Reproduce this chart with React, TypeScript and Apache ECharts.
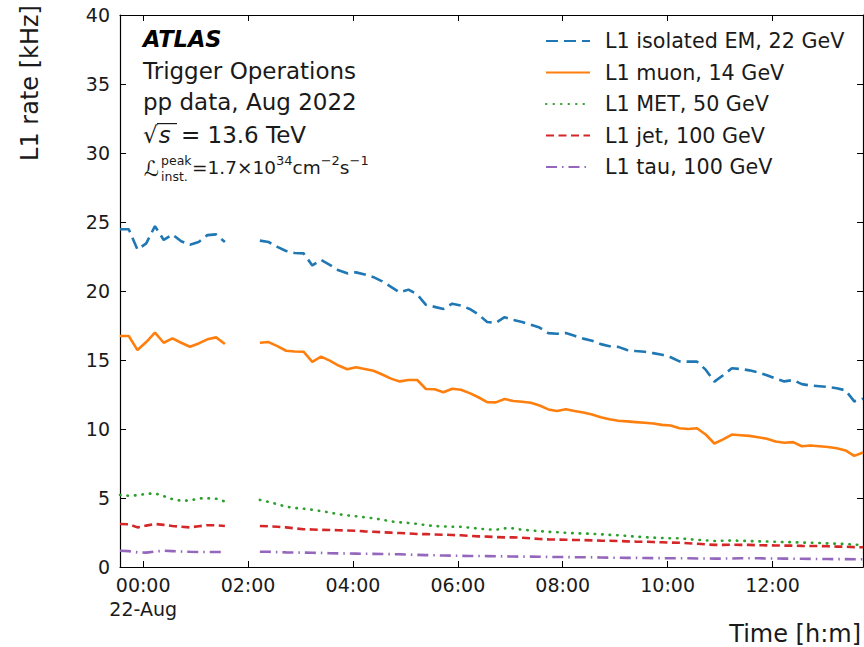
import React, { useEffect, useRef } from "react";
import * as echarts from "echarts";

// 10-minute samples, first sample at 23:33:30 on 21-Aug (minutes relative to 00:00 22-Aug)
const START_MIN = -26.5;
const STEP_MIN = 10;

const SERIES_NAMES = [
  "L1 isolated EM, 22 GeV",
  "L1 muon, 14 GeV",
  "L1 MET, 50 GeV",
  "L1 jet, 100 GeV",
  "L1 tau, 100 GeV",
];

const emRate = [
  24.47, 24.47, 23.0, 23.45, 24.7, 23.7, 24.1, 23.6, 23.35, 23.55, 24.05, 24.1, 23.55,
  null, null, null,
  23.65, 23.55, 23.2, 22.9, 22.75, 22.73, 21.85, 22.25, 21.9, 21.5, 21.28, 21.35, 21.2,
  21.0, 20.7, 20.3, 19.9, 20.1, 19.75, 19.0, 18.85, 18.7, 19.08, 18.95, 18.7, 18.3,
  17.75, 17.7, 18.1, 17.9, 17.75, 17.55, 17.35, 16.95, 16.9, 16.95, 16.75, 16.55, 16.4,
  16.15, 16.0, 15.95, 15.72, 15.65, 15.6, 15.5, 15.38, 15.2, 14.9, 14.88, 14.88, 14.3,
  13.43, 13.9, 14.4, 14.35, 14.25, 14.1, 13.9, 13.65, 13.45, 13.55, 13.25, 13.15, 13.1,
  13.05, 12.95, 12.8, 12.0, 12.2,
];

const muonRate = [
  16.74, 16.74, 15.72, 16.3, 16.98, 16.25, 16.57, 16.25, 15.96, 16.2, 16.5, 16.64, 16.16,
  null, null, null,
  16.25, 16.3, 16.0, 15.67, 15.62, 15.6, 14.86, 15.24, 14.95, 14.6, 14.33, 14.47, 14.35,
  14.22, 13.95, 13.65, 13.45, 13.55, 13.55, 12.9, 12.88, 12.66, 12.92, 12.85, 12.6, 12.3,
  11.95, 11.93, 12.17, 12.03, 11.98, 11.9, 11.7, 11.42, 11.3, 11.43, 11.3, 11.2, 11.05,
  10.85, 10.7, 10.6, 10.55, 10.5, 10.45, 10.4, 10.3, 10.25, 10.05, 10.0, 10.05, 9.6,
  8.95, 9.25, 9.6, 9.55, 9.5, 9.4, 9.3, 9.1, 9.0, 9.05, 8.75, 8.8, 8.75,
  8.7, 8.6, 8.45, 8.05, 8.3,
];

const metRate = [
  5.22, 5.16, 5.2, 5.3, 5.34, 5.14, 4.92, 4.8, 4.82, 4.97, 4.98, 4.95, 4.75,
  null, null, null,
  4.86, 4.72, 4.55, 4.37, 4.28, 4.22, 4.15, 4.05, 3.95, 3.82, 3.74, 3.68, 3.6,
  3.53, 3.43, 3.3, 3.24, 3.19, 3.12, 3.03, 2.97, 2.94, 2.92, 2.92, 2.85, 2.78,
  2.73, 2.7, 2.8, 2.8, 2.7, 2.65, 2.6, 2.55, 2.52, 2.48, 2.45, 2.43, 2.4,
  2.37, 2.33, 2.3, 2.25, 2.2, 2.16, 2.13, 2.1, 2.08, 2.08, 2.02, 1.97, 1.93,
  1.88, 1.9, 1.92, 1.9, 1.88, 1.86, 1.85, 1.83, 1.8, 1.8, 1.77, 1.76, 1.74,
  1.71, 1.69, 1.67, 1.62, 1.6,
];

const jetRate = [
  3.12, 3.1, 2.87, 3.0, 3.12, 3.05, 2.97, 2.92, 2.87, 2.95, 3.03, 3.02, 2.97,
  null, null, null,
  2.97, 2.95, 2.92, 2.87, 2.8, 2.74, 2.72, 2.69, 2.68, 2.66, 2.64, 2.62, 2.58,
  2.55, 2.52, 2.49, 2.46, 2.43, 2.39, 2.38, 2.36, 2.34, 2.32, 2.3, 2.26, 2.22,
  2.2, 2.17, 2.15, 2.15, 2.12, 2.08, 2.03, 2.0, 1.99, 1.98, 1.96, 1.95, 1.93,
  1.91, 1.9, 1.88, 1.86, 1.84, 1.83, 1.81, 1.79, 1.77, 1.76, 1.72, 1.68, 1.64,
  1.6, 1.6, 1.61, 1.6, 1.6, 1.58, 1.57, 1.56, 1.55, 1.55, 1.53, 1.52, 1.52,
  1.5, 1.48, 1.47, 1.44, 1.43,
];

const tauRate = [
  1.18, 1.15, 1.06, 1.04, 1.12, 1.18, 1.15, 1.12, 1.1, 1.09, 1.09, 1.09, 1.09,
  null, null, null,
  1.11, 1.1, 1.08, 1.06, 1.05, 1.04, 1.03, 1.02, 1.0, 0.99, 0.98, 0.97, 0.96,
  0.95, 0.94, 0.93, 0.92, 0.9, 0.88, 0.86, 0.85, 0.83, 0.82, 0.81, 0.8, 0.8,
  0.79, 0.78, 0.77, 0.76, 0.75, 0.75, 0.74, 0.73, 0.72, 0.72, 0.71, 0.71, 0.7,
  0.69, 0.68, 0.67, 0.66, 0.66, 0.65, 0.64, 0.64, 0.63, 0.63, 0.63, 0.62, 0.62,
  0.61, 0.61, 0.62, 0.63, 0.63, 0.63, 0.62, 0.62, 0.61, 0.6, 0.6, 0.59, 0.58,
  0.58, 0.57, 0.57, 0.56, 0.56,
];

// x tick positions in minutes from 00:00 22-Aug, and their labels
const X_TICKS = [0, 120, 240, 360, 480, 600, 720];
const X_TICK_LABELS = ["00:00\n22-Aug", "02:00", "04:00", "06:00", "08:00", "10:00", "12:00"];
const Y_MIN = 0;
const Y_MAX = 40;
const Y_STEP = 5;

const COLORS = ["#1f77b4", "#ff7f0e", "#2ca02c", "#d62728", "#9467bd"];
const DASHES: any[] = [[12, 6], "solid", [0.5, 7], [8, 4.5], [11, 5, 1.5, 5]];
const FONT = "DejaVu Sans";

const W = 864;
const H = 647;
const TICK_LEN = 6;

export default function App() {
  const ref = useRef<HTMLDivElement>(null);
  useEffect(() => {
    if (!ref.current) return;
    const chart = echarts.init(ref.current, null, { renderer: "svg" });
    const all = [emRate, muonRate, metRate, jetRate, tauRate];
    const nPts = emRate.length;
    const xMax = START_MIN + STEP_MIN * (nPts - 1);
    const toData = (arr: (number | null)[]) =>
      arr.map((v, i) => [START_MIN + STEP_MIN * i, v === null ? "-" : v]);

    const series = all.map((arr, k) => ({
      name: SERIES_NAMES[k],
      type: "line",
      data: toData(arr),
      showSymbol: false,
      symbol: "none",
      connectNulls: false,
      xAxisIndex: 0,
      yAxisIndex: 0,
      lineStyle: {
        color: COLORS[k],
        width: 2.6,
        type: DASHES[k],
        cap: k === 2 ? "round" : "butt",
      },
      itemStyle: { color: COLORS[k] },
      z: 10 - k,
    }));

    const frameLine = { show: true, onZero: false, lineStyle: { color: "#000", width: 1.2 } };
    const axTick = { show: true, inside: true, length: TICK_LEN, lineStyle: { color: "#000", width: 1 } };

    const graphic: any[] = [
      {
        type: "text",
        x: 30,
        y: 83,
        rotation: Math.PI / 2,
        style: {
          text: "L1 rate [kHz]",
          fontFamily: FONT,
          fontSize: 24,
          fill: "#1a1a1a",
          textAlign: "center",
          textVerticalAlign: "middle",
        },
      },
      {
        type: "text",
        x: 143,
        y: 39,
        style: {
          text: "ATLAS",
          fontFamily: FONT,
          fontSize: 22.5,
          fontWeight: "bold",
          fontStyle: "italic",
          fill: "#000",
          textVerticalAlign: "middle",
        },
      },
      {
        type: "text",
        x: 143,
        y: 71,
        style: { text: "Trigger Operations", fontFamily: FONT, fontSize: 23, fill: "#1a1a1a", textVerticalAlign: "middle" },
      },
      {
        type: "text",
        x: 143,
        y: 102,
        style: { text: "pp data, Aug 2022", fontFamily: FONT, fontSize: 23, fill: "#1a1a1a", textVerticalAlign: "middle" },
      },
      {
        type: "text",
        x: 143,
        y: 135,
        style: {
          text: "{r|√}{s|s} = 13.6 TeV",
          fontFamily: FONT,
          fontSize: 23,
          fill: "#1a1a1a",
          textVerticalAlign: "middle",
          rich: {
            r: { fontFamily: FONT, fontSize: 23, fill: "#1a1a1a" },
            s: { fontFamily: FONT, fontSize: 23, fontStyle: "italic", fill: "#1a1a1a", padding: [0, 3, 0, 1] },
          },
        },
      },
      {
        type: "rect",
        shape: { x: 157, y: 123, width: 20, height: 1.2 },
        style: { fill: "#1a1a1a" },
      },
      {
        type: "text",
        x: 144,
        y: 169,
        style: { text: "ℒ", fontFamily: FONT, fontSize: 21, fontStyle: "italic", fill: "#1a1a1a", textVerticalAlign: "middle" },
      },
      {
        type: "text",
        x: 161,
        y: 160,
        style: { text: "peak", fontFamily: FONT, fontSize: 12.5, fill: "#1a1a1a", textVerticalAlign: "middle" },
      },
      {
        type: "text",
        x: 161,
        y: 176,
        style: { text: "inst.", fontFamily: FONT, fontSize: 12.5, fill: "#1a1a1a", textVerticalAlign: "middle" },
      },
      {
        type: "text",
        x: 192,
        y: 167,
        style: {
          text: "{m|=1.7×10}{p|34}{m|cm}{p|−2}{m|s}{p|−1}",
          textVerticalAlign: "middle",
          rich: {
            m: { fontFamily: FONT, fontSize: 18.5, lineHeight: 26, fill: "#1a1a1a" },
            p: { fontFamily: FONT, fontSize: 13, lineHeight: 14, verticalAlign: "top", fill: "#1a1a1a" },
          },
        },
      },
    ];

    chart.setOption({
      animation: false,
      backgroundColor: "#fff",
      grid: { left: 120, right: 1, top: 15, bottom: 80, show: false },
      legend: {
        orient: "vertical",
        left: 545,
        top: 30,
        padding: 0,
        itemWidth: 44,
        itemHeight: 14,
        itemGap: 9.5,
        selectedMode: false,
        data: SERIES_NAMES,
        itemStyle: { opacity: 0, color: "rgba(0,0,0,0)", borderWidth: 0 },
        textStyle: {
          fontFamily: FONT,
          fontSize: 20.7,
          lineHeight: 22,
          color: "#1a1a1a",
          padding: [0, 0, 0, 10],
        },
      },
      xAxis: [
        {
          type: "value",
          min: START_MIN,
          max: xMax,
          position: "bottom",
          axisLine: frameLine,
          splitLine: { show: false },
          axisTick: { ...axTick, customValues: X_TICKS },
          axisLabel: {
            show: true,
            customValues: X_TICKS,
            margin: 6,
            fontFamily: FONT,
            fontSize: 19,
            lineHeight: 24,
            color: "#1a1a1a",
            formatter: (v: number) => X_TICK_LABELS[X_TICKS.indexOf(v)] ?? "",
          },
          name: "Time [h:m]",
          nameLocation: "end",
          nameGap: -2,
          nameTextStyle: {
            fontFamily: FONT,
            fontSize: 24,
            color: "#1a1a1a",
            align: "right",
            verticalAlign: "top",
            padding: [55, 0, 0, 0],
          },
        },
        {
          type: "value",
          min: START_MIN,
          max: xMax,
          position: "top",
          axisLine: frameLine,
          splitLine: { show: false },
          axisTick: { ...axTick, customValues: X_TICKS },
          axisLabel: { show: false },
        },
      ],
      yAxis: [
        {
          type: "value",
          min: Y_MIN,
          max: Y_MAX,
          interval: Y_STEP,
          position: "left",
          axisLine: frameLine,
          splitLine: { show: false },
          axisTick: axTick,
          axisLabel: { margin: 10, fontFamily: FONT, fontSize: 19, color: "#1a1a1a" },
        },
        {
          type: "value",
          min: Y_MIN,
          max: Y_MAX,
          interval: Y_STEP,
          position: "right",
          axisLine: frameLine,
          splitLine: { show: false },
          axisTick: axTick,
          axisLabel: { show: false },
        },
      ],
      series,
      graphic: { elements: graphic },
    });

    return () => chart.dispose();
  }, []);
  return (
    <div
      ref={ref}
      style={{ position: "fixed", left: 0, top: 0, width: W, height: H, background: "#fff" }}
    />
  );
}
